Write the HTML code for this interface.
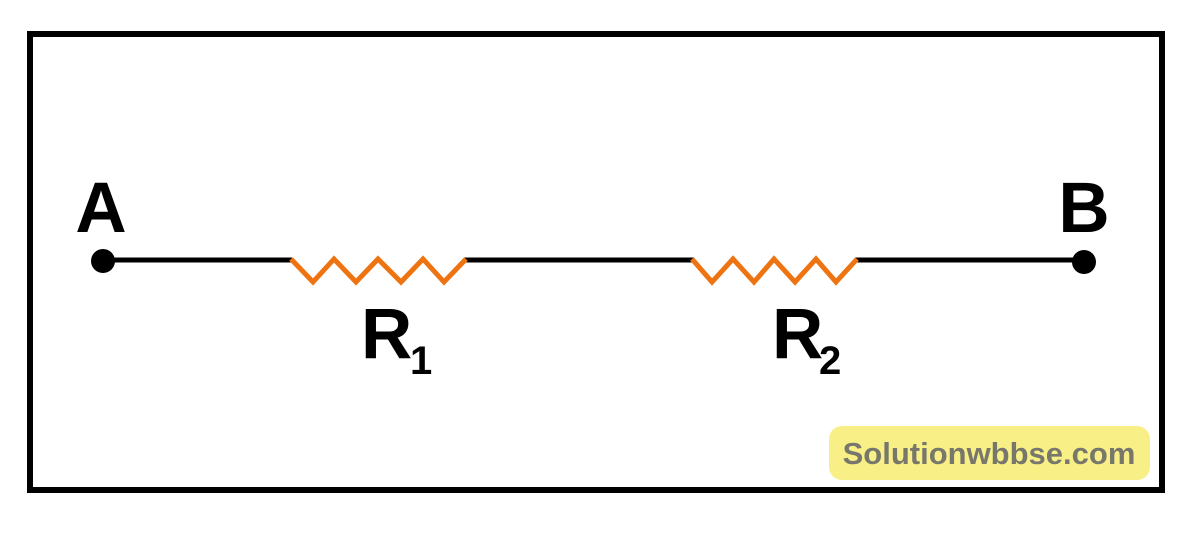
<!DOCTYPE html>
<html><head><style>
html,body{margin:0;padding:0;background:#fff;width:1200px;height:533px;overflow:hidden}
</style></head><body>
<svg width="1200" height="533" viewBox="0 0 1200 533" xmlns="http://www.w3.org/2000/svg" font-family="Liberation Sans, sans-serif">
<rect x="30" y="34" width="1132" height="456" fill="none" stroke="#000" stroke-width="6"/>
<line x1="103" y1="260" x2="292" y2="260" stroke="#000" stroke-width="5"/>
<line x1="464" y1="260" x2="694" y2="260" stroke="#000" stroke-width="5"/>
<line x1="855" y1="260" x2="1084" y2="260" stroke="#000" stroke-width="5"/>
<polyline points="291,259 313,282 334,259 356,282 378,259 401,282 423,259 444,282 466,259" fill="none" stroke="#ee7412" stroke-width="5" stroke-linejoin="miter"/>
<polyline points="692,259 712,282 733,259 754,282 774,259 795,282 816,259 836,282 857,259" fill="none" stroke="#ee7412" stroke-width="5" stroke-linejoin="miter"/>
<circle cx="103" cy="261" r="12" fill="#000"/>
<circle cx="1084" cy="262" r="12" fill="#000"/>
<text x="101" y="232" font-size="71" font-weight="bold" text-anchor="middle">A</text>
<text x="1084" y="232" font-size="71" font-weight="bold" text-anchor="middle">B</text>
<text x="361" y="358" font-size="71" font-weight="bold">R</text>
<text x="410" y="374" font-size="40" font-weight="bold">1</text>
<text x="772" y="358" font-size="71" font-weight="bold">R</text>
<text x="819" y="374" font-size="40" font-weight="bold">2</text>
<rect x="829" y="426" width="321" height="54" rx="13" fill="#f8ef86"/>
<text x="989" y="464" font-size="31" font-weight="bold" fill="#77776c" text-anchor="middle">Solutionwbbse.com</text>
</svg>
</body></html>
